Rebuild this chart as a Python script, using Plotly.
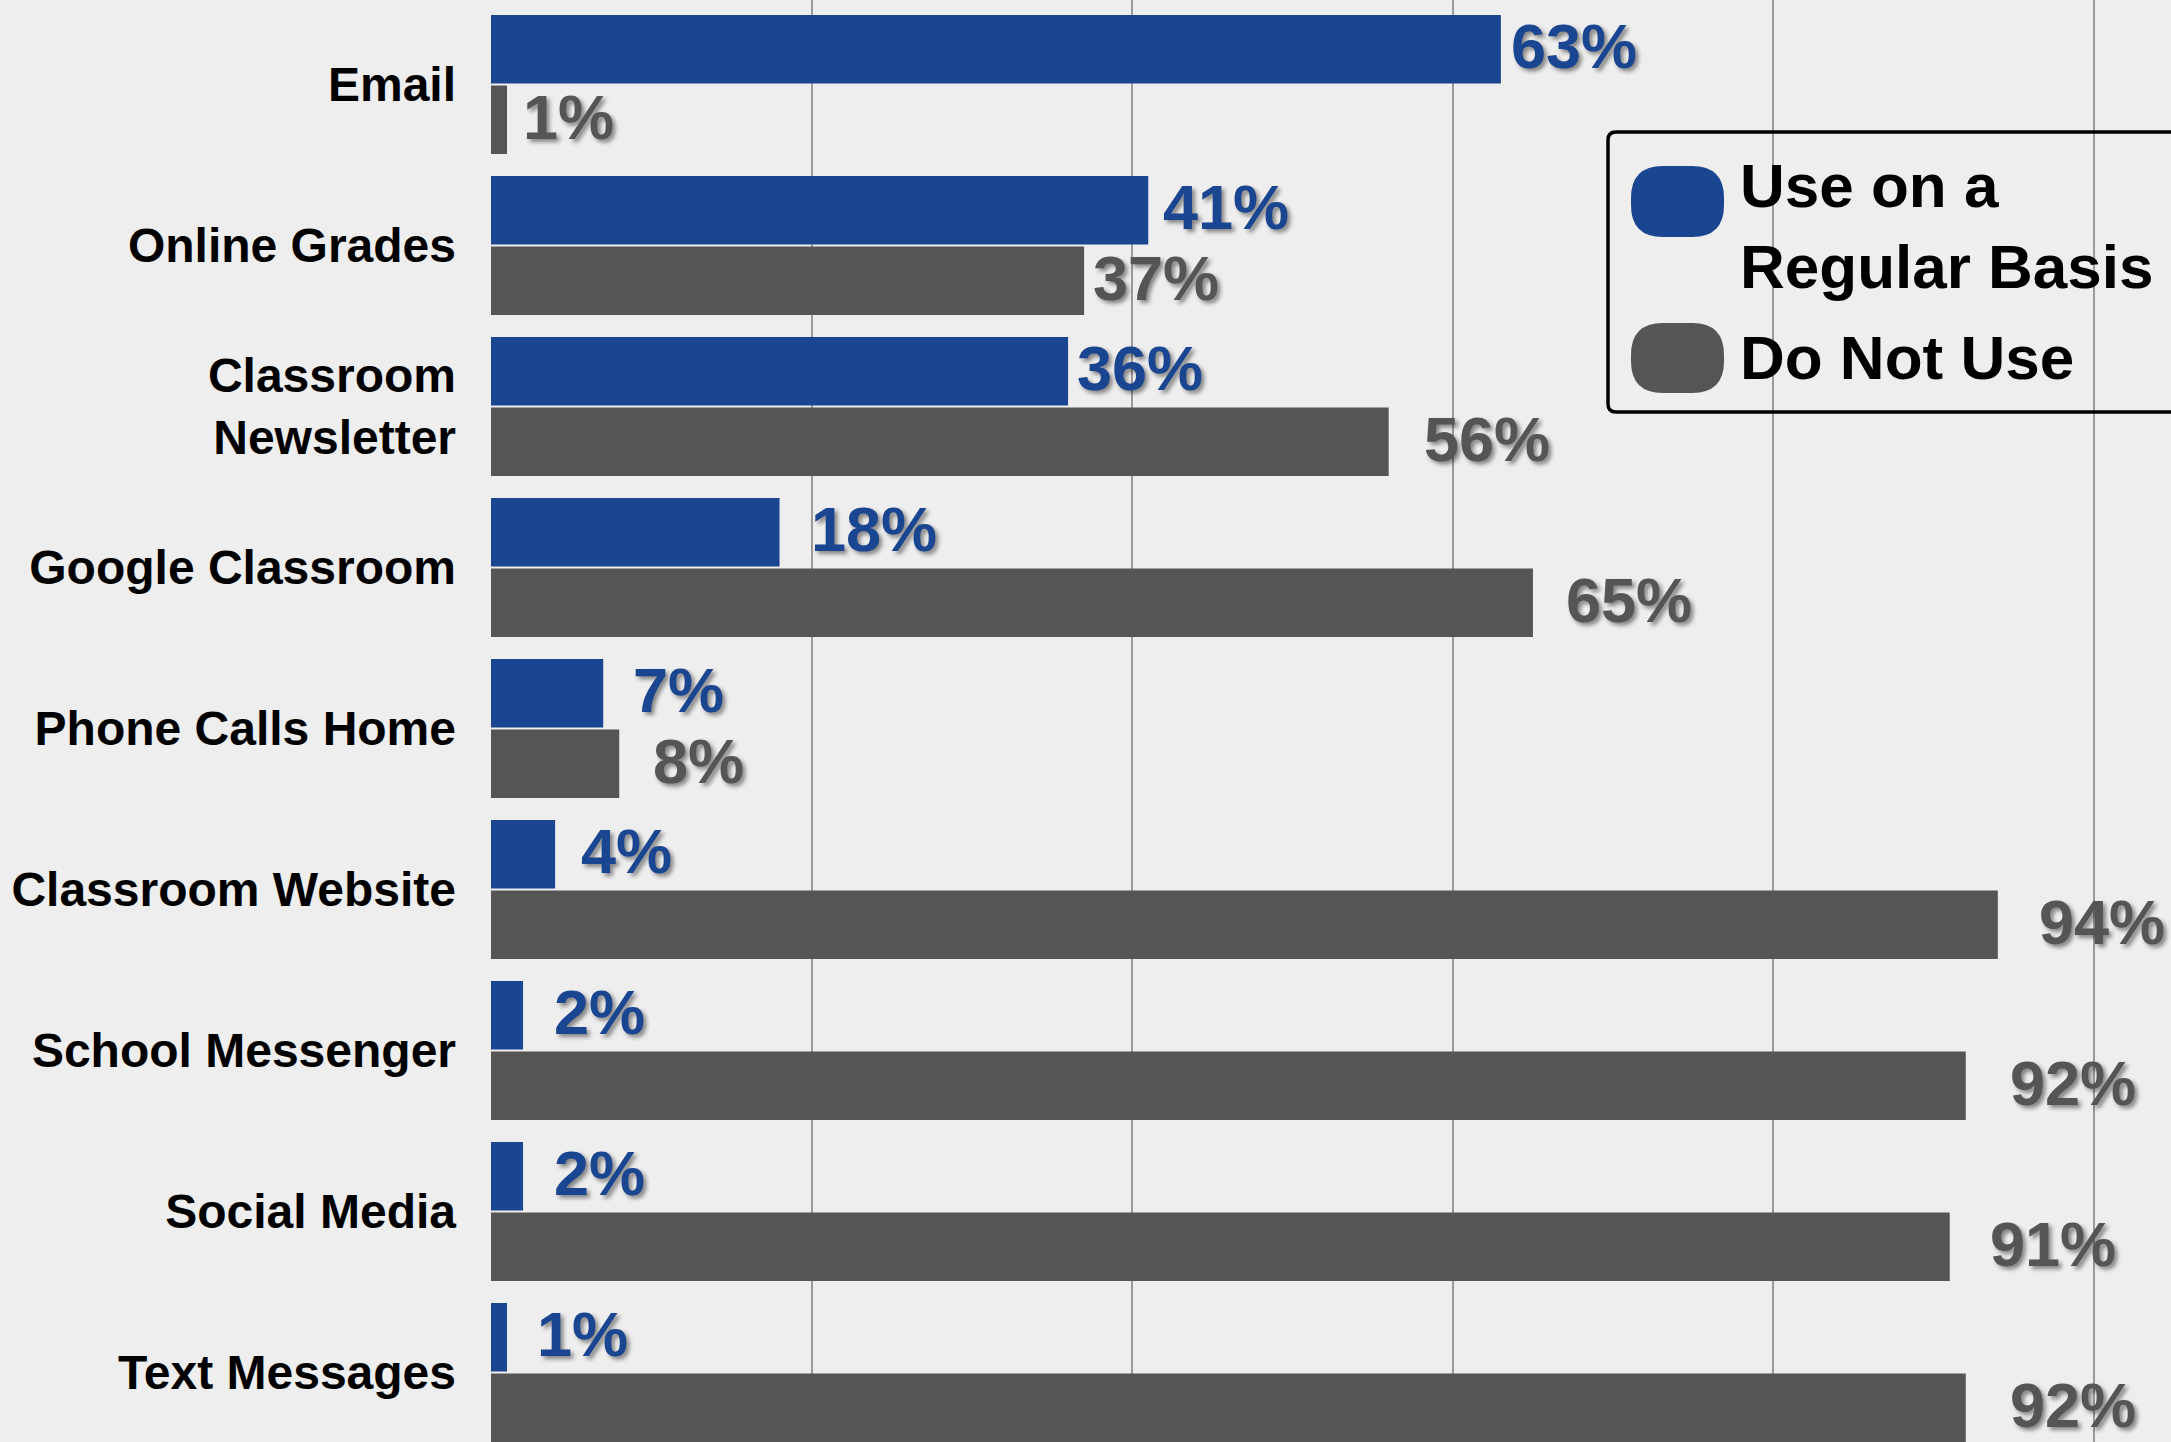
import plotly.graph_objects as go

categories = ["Email", "Online Grades", "Classroom<br>Newsletter", "Google Classroom",
              "Phone Calls Home", "Classroom Website", "School Messenger",
              "Social Media", "Text Messages"]
use_regular = [63, 41, 36, 18, 7, 4, 2, 2, 1]
do_not_use = [1, 37, 56, 65, 8, 94, 92, 91, 92]
series_names = ["Use on a<br>Regular Basis", "Do Not Use"]

BLUE = "#1a4590"
GREY = "#555555"
BG = "#eeeeee"
FONT = "Liberation Sans, Arial"

# style: gap (px) between bar end and its value label
gap_blue = [12, 17, 11, 33, 32, 28, 33, 33, 32]
gap_grey = [18, 11, 37, 35, 36, 43, 46, 42, 46]

W, H = 2171, 1442
PL = 491
BARGAP = 0.122

fig = go.Figure()
fig.add_trace(go.Bar(y=categories, x=use_regular, orientation="h", name=series_names[0],
                     marker=dict(color=BLUE, line=dict(width=0)), showlegend=False))
fig.add_trace(go.Bar(y=categories, x=do_not_use, orientation="h", name=series_names[1],
                     marker=dict(color=GREY, line=dict(width=0)), showlegend=False))

off = (1 - BARGAP) / 4
shadow = "3px 3px 4px rgba(0,0,0,0.45)"
annotations = []
for i, (v, g) in enumerate(zip(use_regular, gap_blue)):
    annotations.append(dict(x=v, y=i - off, xref="x", yref="y", text=f"{v}%", showarrow=False,
                            xanchor="left", yanchor="middle", xshift=g - 4, yshift=3,
                            font=dict(family=FONT, size=63, color=BLUE, weight="bold", shadow=shadow)))
for i, (v, g) in enumerate(zip(do_not_use, gap_grey)):
    annotations.append(dict(x=v, y=i + off, xref="x", yref="y", text=f"{v}%", showarrow=False,
                            xanchor="left", yanchor="middle", xshift=g - 4, yshift=3,
                            font=dict(family=FONT, size=63, color=GREY, weight="bold", shadow=shadow)))

PW = W - PL


def px(x):
    return (x - PL) / PW


def py(y):
    return 1 - y / H


def rrect(x0, y0, x1, y1, r):
    pts = [
        f"M{px(x0 + r)},{py(y0)}",
        f"L{px(x1 - r)},{py(y0)}",
        f"Q{px(x1)},{py(y0)} {px(x1)},{py(y0 + r)}",
        f"L{px(x1)},{py(y1 - r)}",
        f"Q{px(x1)},{py(y1)} {px(x1 - r)},{py(y1)}",
        f"L{px(x0 + r)},{py(y1)}",
        f"Q{px(x0)},{py(y1)} {px(x0)},{py(y1 - r)}",
        f"L{px(x0)},{py(y0 + r)}",
        f"Q{px(x0)},{py(y0)} {px(x0 + r)},{py(y0)}",
        "Z",
    ]
    return " ".join(pts)


shapes = [
    dict(type="path", xref="paper", yref="paper", path=rrect(1608, 132, 2190, 412, 8),
         line=dict(color="black", width=3.5), fillcolor="rgba(0,0,0,0)", layer="above"),
    dict(type="path", xref="paper", yref="paper", path=rrect(1631, 166, 1724, 237, 32),
         line=dict(width=0), fillcolor=BLUE, layer="above"),
    dict(type="path", xref="paper", yref="paper", path=rrect(1631, 323, 1724, 393, 32),
         line=dict(width=0), fillcolor=GREY, layer="above"),
]
annotations.append(dict(x=px(1738), y=py(226), xref="paper", yref="paper", text=series_names[0],
                        showarrow=False, xanchor="left", yanchor="middle", align="left",
                        font=dict(family=FONT, size=62, color="black", weight="bold")))
annotations.append(dict(x=px(1738), y=py(357), xref="paper", yref="paper", text=series_names[1],
                        showarrow=False, xanchor="left", yanchor="middle", align="left",
                        font=dict(family=FONT, size=62, color="black", weight="bold")))

pitch = 161.0
center0 = 84.5
fig.update_layout(
    width=W, height=H,
    margin=dict(l=PL, r=0, t=0, b=0),
    paper_bgcolor=BG, plot_bgcolor=BG,
    barmode="group", bargap=BARGAP, bargroupgap=0.03,
    xaxis=dict(range=[0, PW / 16.03], tickvals=[20, 40, 60, 80, 100], showticklabels=False,
               showgrid=True, gridcolor="#9a9a9a", gridwidth=1.5, zeroline=False, showline=False,
               automargin=False),
    yaxis=dict(type="category", range=[(H - center0) / pitch, -center0 / pitch],
               showgrid=False, zeroline=False, showline=False, ticks="",
               ticklabelstandoff=34, automargin=False,
               tickfont=dict(family=FONT, size=48, color="black", weight="bold")),
    annotations=annotations,
    shapes=shapes,
)

fig.write_html("out.html")
